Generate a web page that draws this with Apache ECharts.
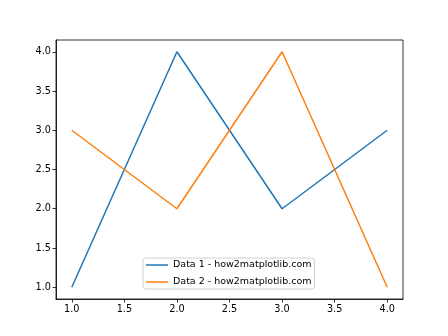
<!DOCTYPE html>
<html><head><meta charset="utf-8">
<script src="https://cdn.jsdelivr.net/npm/echarts@6/dist/echarts.min.js"></script>
<style>html,body{margin:0;padding:0;background:#fff}#c{width:448px;height:336px}</style>
</head><body><div id="c"></div>
<script>
const xValues = [1, 2, 3, 4];
const data1 = [1, 4, 2, 3];
const data2 = [3, 2, 4, 1];
const seriesNames = ['Data 1 - how2matplotlib.com', 'Data 2 - how2matplotlib.com'];
const xTicks = [1.0, 1.5, 2.0, 2.5, 3.0, 3.5, 4.0];
const yTicks = [1.0, 1.5, 2.0, 2.5, 3.0, 3.5, 4.0];

const font = 'DejaVu Sans';
const chart = echarts.init(document.getElementById('c'), null, {renderer: 'canvas'});
const axisCommon = {
  type: 'value',
  min: 0.85, max: 4.15,
  axisLine: {show: true, onZero: false, lineStyle: {color: '#000', width: 0.8}},
  splitLine: {show: false},
};
chart.setOption({
  animation: false,
  textStyle: {fontFamily: font},
  grid: {left: 56, right: 45, top: 40, bottom: 37, show: true, borderColor: '#000', borderWidth: 0.8, backgroundColor: 'transparent'},
  xAxis: Object.assign({}, axisCommon, {
    axisTick: {show: true, length: 3.5, lineStyle: {color: '#000', width: 0.8}, customValues: xTicks},
    axisLabel: {color: '#000', fontSize: 9.7, fontFamily: font, margin: 5, customValues: xTicks, formatter: v => v.toFixed(1)}
  }),
  yAxis: Object.assign({}, axisCommon, {
    axisTick: {show: true, length: 3.5, lineStyle: {color: '#000', width: 0.8}, customValues: yTicks},
    axisLabel: {color: '#000', fontSize: 9.7, fontFamily: font, margin: 5, customValues: yTicks, formatter: v => v.toFixed(1)}
  }),
  legend: {
    orient: 'vertical', left: 143, top: 258,
    padding: [2, 3, 2, 3],
    itemGap: 7, itemWidth: 22, itemHeight: 1.5, icon: 'rect',
    backgroundColor: 'rgba(255,255,255,0.8)', borderColor: '#d0d0d0', borderWidth: 1, borderRadius: 3,
    textStyle: {fontSize: 9.5, color: '#000', fontFamily: font},
    data: seriesNames
  },
  series: [
    {name: seriesNames[0], type: 'line', data: xValues.map((x, i) => [x, data1[i]]), showSymbol: false, symbol: 'none', lineStyle: {color: '#1f77b4', width: 1.5}, itemStyle: {color: '#1f77b4'}},
    {name: seriesNames[1], type: 'line', data: xValues.map((x, i) => [x, data2[i]]), showSymbol: false, symbol: 'none', lineStyle: {color: '#ff7f0e', width: 1.5}, itemStyle: {color: '#ff7f0e'}}
  ]
});
</script></body></html>
